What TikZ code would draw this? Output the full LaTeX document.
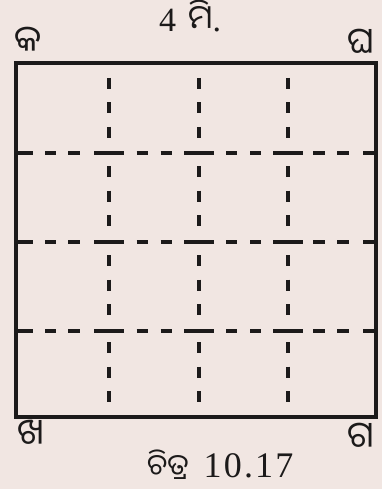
\documentclass[tikz,border=0pt]{standalone}
\usepackage{fontspec}
\setmainfont{Liberation Serif}
\newfontfamily\oriya[Script=Oriya]{Noto Sans Oriya UI}
\newfontfamily\spaced[LetterSpace=6]{Liberation Serif}
\definecolor{paper}{RGB}{241,230,226}
\definecolor{ink}{RGB}{28,26,26}
\begin{document}
\begin{tikzpicture}[x=1pt,y=-1pt,
  frame/.style={draw=ink,line width=3.4pt},
  dashseg/.style={draw=ink,line width=3.1pt,line cap=butt},
  lab/.style={text=ink,inner sep=0pt,font=\oriya\fontsize{36}{38}\selectfont},
  titletxt/.style={text=ink,inner sep=0pt,font=\fontsize{34}{36}\selectfont},
  captxt/.style={text=ink,inner sep=0pt,font=\spaced\fontsize{36}{38}\selectfont}]
\fill[paper] (0,0) rectangle (382,489);
\useasboundingbox (0,0) rectangle (382,489);
\coordinate (tl) at (16,63);
\coordinate (tr) at (376,63);
\coordinate (br) at (376,417);
\coordinate (bl) at (16,417);
% vertical dashed lines: three dashes centred in every cell
\foreach \x in {109,199,288}{
  \foreach \c in {108,196,285,372}{
    \foreach \d in {-24.5,0,24.5}{
      \coordinate (va) at (\x,\c+\d-5.5);
      \coordinate (vb) at (\x,\c+\d+5.5);
      \draw[dashseg] (va) -- (vb);
    }
  }
}
% horizontal dashed lines: long dash across every crossing
\foreach \y in {153,242,331}{
  \foreach \a/\b in {16/33,45/56,68/80,94/124,136.5/147.5,160.5/171.5,184/214,226/237,250/261,273/303,313/325,337/349,363/376}{
    \coordinate (ha) at (\a,\y);
    \coordinate (hb) at (\b,\y);
    \draw[dashseg] (ha) -- (hb);
  }
}
\draw[frame] (tl) rectangle (br);
% labels
\node[titletxt,anchor=base west] (title) at (159,32)
  {4\hspace{12pt}{\oriya\fontsize{33}{35}\selectfont ମି}.};
\node[lab,anchor=base west] (ka) at (14,55) {କ};
\node[lab,anchor=base east] (gha) at (374,57) {ଘ};
\node[lab,anchor=base west] (kha) at (17,447) {ଖ};
\node[lab,anchor=base east] (ga) at (374,450) {ଗ};
\node[captxt,anchor=base west] (fig) at (147,477)
  {{\oriya\fontsize{29}{32}\selectfont ଚିତ୍ର}\hspace{15pt}10.17};
\end{tikzpicture}
\end{document}
